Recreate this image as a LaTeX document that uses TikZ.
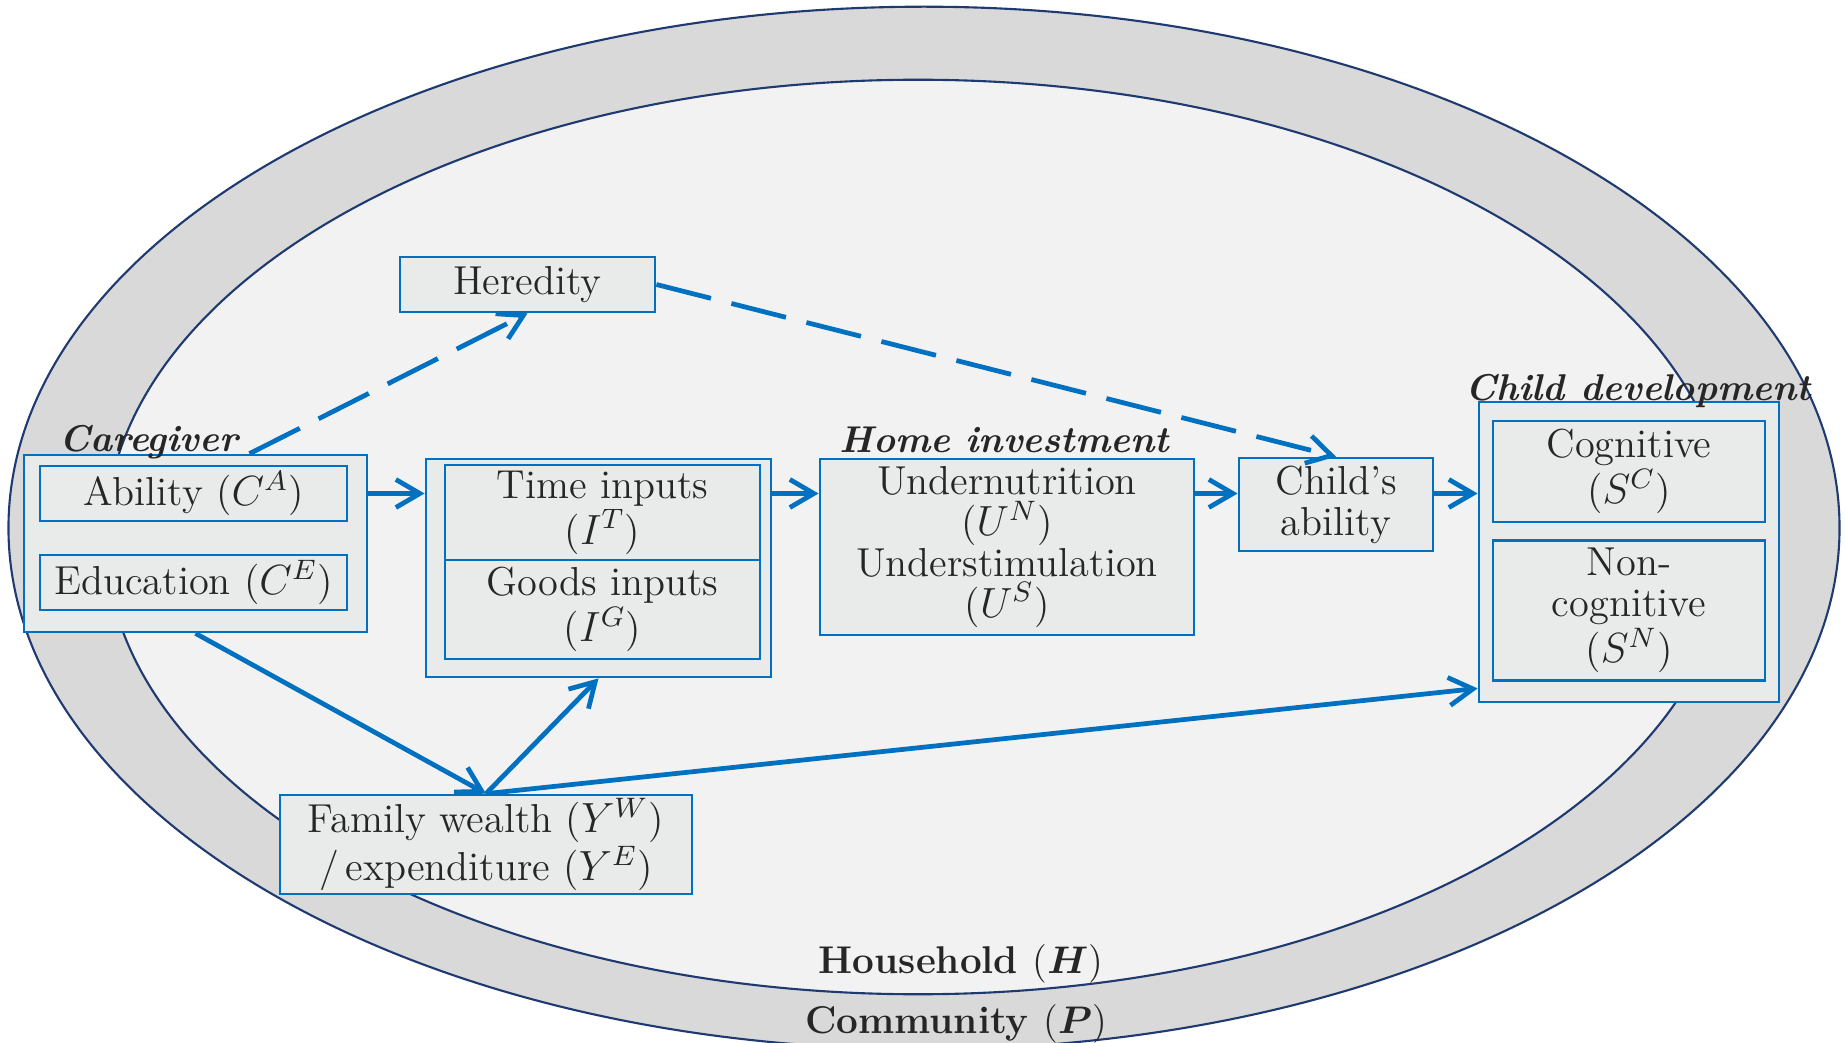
\documentclass[tikz,border=0pt]{standalone}
\usepackage{amsmath}
\usepackage{amsfonts}
\usepackage{tikz}
\usetikzlibrary{arrows.meta}
\definecolor{ringgray}{HTML}{D9D9D9}
\definecolor{innergray}{HTML}{F2F2F2}
\definecolor{boxfill}{HTML}{E9EBEB}
\definecolor{boxblue}{HTML}{0070C0}
\definecolor{ovalblue}{HTML}{1F3A70}
\definecolor{inkgray}{HTML}{262626}
\tikzset{
	box/.style={draw=boxblue, line width=0.75pt, fill=boxfill, text=inkgray, align=center, inner sep=0pt, font=\fontsize{11.5}{11.6}\selectfont},
	grouplabel/.style={text=inkgray, anchor=base west, inner sep=0pt, font=\fontsize{10.6}{12}\selectfont\bfseries\itshape},
	ringlabel/.style={text=inkgray, anchor=base, inner sep=0pt, font=\fontsize{11}{12}\selectfont\bfseries\boldmath},
	oval/.style={draw=ovalblue, line width=0.6pt},
	arr/.style={draw=boxblue, line width=1.35pt, -{Straight Barb[length=2.4mm,width=2.8mm]}},
	dasharr/.style={arr, dash pattern=on 16pt off 6pt}
}
\begin{document}
\begin{tikzpicture}[x=0.01cm, y=-0.01cm]
				\useasboundingbox (0,0) rectangle (1845,1043);
				\clip (0,0) rectangle (1845,1043);
				\draw[oval, fill=ringgray] (924,528) ellipse [x radius=9.15cm, y radius=5.21cm];
				\draw[oval, fill=innergray] (918,537) ellipse [x radius=8.12cm, y radius=4.57cm];
				\node[ringlabel] (household) at (961,973) {Household {\mdseries(}$H${\mdseries)}};
				\node[ringlabel] (community) at (956,1033) {Community {\mdseries(}$P${\mdseries)}};
				\node[box, minimum width=3.43cm, minimum height=1.77cm] (caregiver) at (195.5,543.5) {};
				\node[box, minimum width=3.07cm, minimum height=0.55cm] (ability) at (193.5,493.5) {Ability ($C^{A}$)};
				\node[box, minimum width=3.07cm, minimum height=0.55cm] (education) at (193.5,582.5) {Education ($C^{E}$)};
				\node[grouplabel] (lblcare) at (59,452) {Caregiver};
				\node[box, minimum width=2.55cm, minimum height=0.55cm] (heredity) at (527.5,284.5) {Heredity};
				\node[box, minimum width=3.45cm, minimum height=2.18cm] (inputs) at (598.5,568) {};
				\node[box, minimum width=3.15cm, minimum height=0.95cm] (timein) at (602.5,512.5) {Time inputs\\($I^{T}$)};
				\node[box, minimum width=3.15cm, minimum height=0.99cm] (goodsin) at (602.5,609.5) {Goods inputs\\($I^{G}$)};
				\node[box, minimum width=3.74cm, minimum height=1.76cm] (home) at (1007,547) {Undernutrition\\($U^{N}$)\\Understimulation\\($U^{S}$)};
				\node[grouplabel] (lblhome) at (839,453) {Home investment};
				\node[box, minimum width=1.94cm, minimum height=0.93cm] (childab) at (1336,504.5) {Child's\\ability};
				\node[box, minimum width=3.00cm, minimum height=3.00cm] (childdev) at (1629,552) {};
				\node[box, minimum width=2.72cm, minimum height=1.01cm] (cognitive) at (1629,471.5) {Cognitive\\($S^{C}$)};
				\node[box, minimum width=2.72cm, minimum height=1.40cm] (noncog) at (1629,610.5) {Non-\\cognitive\\($S^{N}$)};
				\node[grouplabel] (lbldev) at (1465,401) {Child development};
				\node[box, minimum width=4.12cm, minimum height=0.99cm] (wealth) at (486,844.5) {Family wealth ($Y^{W}$)\\/\,expenditure ($Y^{E}$)};
				\draw[arr] (caregiver.east |- ability) -- (inputs.west |- ability);
				\draw[arr] (inputs.east |- ability) -- (home.west |- ability);
				\draw[arr] (home.east |- ability) -- (childab.west |- ability);
				\draw[arr] (childab.east |- ability) -- (childdev.west |- ability);
				\draw[dasharr] ([xshift=0.54cm]caregiver.north) -- (heredity.south);
				\draw[dasharr] (heredity.east) -- (childab.north);
				\draw[arr] (caregiver.south) -- (wealth.north);
				\draw[arr] (wealth.north) -- (inputs.south);
				\draw[arr] (wealth.north) -- ([yshift=0.15cm]childdev.south west);
			\end{tikzpicture}
\end{document}
